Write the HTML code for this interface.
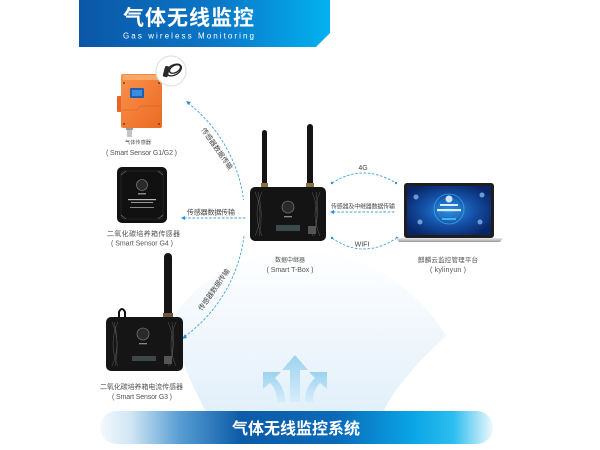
<!DOCTYPE html>
<html><head><meta charset="utf-8">
<style>
html,body{margin:0;padding:0;background:#fff;}
svg{display:block;}
text{font-family:"Liberation Sans","Noto Sans CJK SC",sans-serif;}
</style></head><body>
<svg width="600" height="450" viewBox="0 0 600 450" xmlns="http://www.w3.org/2000/svg">
<defs>
<linearGradient id="tb" x1="0" x2="1" y1="0" y2="0">
 <stop offset="0" stop-color="#0b56a6"/>
 <stop offset="0.55" stop-color="#0a78c8"/>
 <stop offset="1" stop-color="#03b1ef"/>
</linearGradient>
<linearGradient id="bb" x1="0" x2="1">
 <stop offset="0" stop-color="#f4f9fd"/>
 <stop offset="0.08" stop-color="#cfe5f4"/>
 <stop offset="0.2" stop-color="#5a9fd4"/>
 <stop offset="0.36" stop-color="#0c5ba8"/>
 <stop offset="0.6" stop-color="#0a6ab8"/>
 <stop offset="0.8" stop-color="#0aa6e6"/>
 <stop offset="0.9" stop-color="#2dbdf0"/>
 <stop offset="1" stop-color="#eef9fd"/>
</linearGradient>
<linearGradient id="glow" x1="0" y1="1" x2="0" y2="0">
 <stop offset="0" stop-color="#e2f0fa"/>
 <stop offset="0.55" stop-color="#f2f8fd"/>
 <stop offset="1" stop-color="#ffffff"/>
</linearGradient>
<linearGradient id="arw" x1="0" y1="0" x2="0" y2="1">
 <stop offset="0" stop-color="#9cd2f0"/>
 <stop offset="1" stop-color="#d6edf9"/>
</linearGradient>
<radialGradient id="scr" cx="0.5" cy="0.5" r="0.6">
 <stop offset="0" stop-color="#2f8fe2"/>
 <stop offset="0.5" stop-color="#1452a8"/>
 <stop offset="1" stop-color="#0a2466"/>
</radialGradient>
<linearGradient id="base" x1="0" y1="0" x2="0" y2="1">
 <stop offset="0" stop-color="#ececec"/>
 <stop offset="1" stop-color="#9a9a9a"/>
</linearGradient>
<linearGradient id="orange" x1="0" y1="0" x2="1" y2="1">
 <stop offset="0" stop-color="#f8924c"/>
 <stop offset="1" stop-color="#ec6a22"/>
</linearGradient>
</defs>

<!-- background glow -->
<path d="M206,412 C192,385 180,360 170,322 C200,272 255,250 300,250 C362,250 420,290 446,336 C420,360 396,385 383,412 Z" fill="url(#glow)"/>

<!-- top banner -->
<polygon points="79,0 330,0 330,33 316,47 79,47" fill="url(#tb)"/>
<text x="188.5" y="25" font-size="21" font-weight="bold" fill="#fff" text-anchor="middle" textLength="131" lengthAdjust="spacing">气体无线监控</text>
<text x="188.5" y="38.5" font-size="8" fill="#fff" text-anchor="middle" textLength="131" lengthAdjust="spacing">Gas wireless Monitoring</text>

<!-- bottom arrows glyph -->
<g fill="url(#arw)">
 <polygon points="295,355 308,370 300,370 300,402 290,402 290,370 282,370"/>
 <path d="M263,372 L281,372 L275,378 C282,385 285,392 285,402 L277,402 C277,393 275,388 270,383 L263,389 Z"/>
 <path d="M327,372 L309,372 L315,378 C308,385 305,392 305,402 L313,402 C313,393 315,388 320,383 L327,389 Z"/>
</g>

<!-- bottom banner -->
<rect x="100" y="411" width="393" height="33" rx="16.5" fill="url(#bb)"/>
<text x="296" y="434" font-size="16" font-weight="bold" fill="#fff" text-anchor="middle" textLength="128" lengthAdjust="spacing">气体无线监控系统</text>

<!-- dashed connectors -->
<g fill="none" stroke="#3ea3e2" stroke-width="0.9" stroke-dasharray="2.6,1.6">
 <path d="M188,103 A147,147 0 0 1 243.6,200"/>
 <path d="M244,236 A147,147 0 0 1 184,337"/>
 <line x1="184" y1="218" x2="246" y2="218"/>
 <path d="M332,183 Q363,163 396,183"/>
 <line x1="333" y1="212" x2="395" y2="212"/>
 <path d="M332,238 Q363,260 397,238"/>
</g>
<g fill="#2f8fd6">
 <polygon points="186,101 191,102 188,105"/>
 <polygon points="182,339 185,334 187,338"/>
 <polygon points="181,218 185,216 185,220"/>
 <circle cx="332" cy="183" r="1.2"/>
 <circle cx="396" cy="183" r="1.2"/>
 <polygon points="330,212 334,210 334,214"/>
 <circle cx="332" cy="238" r="1.2"/>
 <circle cx="397" cy="238" r="1.2"/>
</g>

<!-- connector labels -->
<g font-size="7" fill="#444">
 <text x="215" y="150" text-anchor="middle" transform="rotate(55 215 150)" textLength="49" lengthAdjust="spacing">传感器数据传输</text>
 <text x="216" y="291" text-anchor="middle" transform="rotate(-55 216 291)" textLength="49" lengthAdjust="spacing">传感器数据传输</text>
 <text x="211" y="214.5" text-anchor="middle" textLength="48" lengthAdjust="spacing">传感器数据传输</text>
 <text x="363" y="170" text-anchor="middle">4G</text>
 <text x="363" y="208.5" text-anchor="middle" font-size="6" textLength="64" lengthAdjust="spacing">传感器及中继器数据传输</text>
 <text x="362" y="246.5" text-anchor="middle">WIFI</text>
</g>

<!-- gas sensor -->
<g>
 <rect x="117" y="96" width="5" height="16" rx="1" fill="#e8661f"/>
 <rect x="121" y="74" width="41" height="54" rx="2" fill="url(#orange)"/>
 <rect x="123" y="75" width="37" height="5" fill="#f9a86a"/>
 <rect x="130" y="88" width="14" height="10" rx="1" fill="#1f5fb0"/>
 <rect x="132" y="90" width="10" height="6" fill="#3a8ee0"/>
 <path d="M122,110 L137,110 L141,106 L161,106" stroke="#d9581a" stroke-width="0.5" fill="none"/>
 <circle cx="124" cy="83" r="0.9" fill="#333"/><circle cx="159" cy="83" r="0.9" fill="#333"/>
 <circle cx="124" cy="124" r="0.9" fill="#333"/><circle cx="159" cy="124" r="0.9" fill="#333"/>
 <rect x="127" y="128" width="5" height="9" fill="#c5c5c5"/>
 <rect x="126" y="128" width="7" height="2" fill="#999"/>
</g>
<circle cx="171" cy="71" r="15" fill="#fff" stroke="#e2e2e2" stroke-width="1.2"/>
<g fill="none" stroke="#222" stroke-width="1.3">
 <ellipse cx="174" cy="70" rx="8" ry="5" transform="rotate(-30 174 70)"/>
 <ellipse cx="175" cy="69" rx="6" ry="3.5" transform="rotate(-30 175 69)"/>
</g>
<rect x="164" y="66" width="5" height="11" rx="1.5" fill="#2a2a2a" transform="rotate(15 166 71)"/>
<g fill="#555" text-anchor="middle">
 <text x="138" y="144" font-size="5.2">气体传感器</text>
 <text x="141.5" y="155" font-size="7" textLength="71" lengthAdjust="spacing">( Smart Sensor G1/G2 )</text>
</g>

<!-- G4 sensor -->
<g>
 <rect x="117" y="167" width="50" height="56" rx="5" fill="#111"/>
 <rect x="121" y="171" width="42" height="48" rx="3" fill="none" stroke="#333" stroke-width="0.6"/>
 <circle cx="142" cy="185" r="5.5" fill="#2a2a2a" stroke="#888" stroke-width="0.6"/>
 <rect x="138" y="193" width="8" height="1.5" fill="#888"/>
 <rect x="128" y="199" width="28" height="1.2" fill="#bbb"/>
 <rect x="131" y="202" width="22" height="1" fill="#999"/>
 <rect x="130" y="207" width="24" height="1" fill="#888"/>
 <path d="M121,175 L126,171 M163,175 L158,171 M121,215 L126,219 M163,215 L158,219" stroke="#777" stroke-width="0.6"/>
</g>
<g font-size="7" fill="#555" text-anchor="middle">
 <text x="143.5" y="236" textLength="73" lengthAdjust="spacing">二氧化碳培养箱传感器</text>
 <text x="142" y="245.5" textLength="62" lengthAdjust="spacing">( Smart Sensor G4 )</text>
</g>

<!-- G3 sensor -->
<g>
 <rect x="164" y="253" width="8" height="66" rx="4" fill="#141414"/>
 <rect x="163" y="313" width="10" height="5" fill="#6a5a3a"/>
 <path d="M119,318 L119,312 Q122,306 125,312 L125,318" fill="none" stroke="#111" stroke-width="2"/>
 <rect x="106" y="317" width="77" height="54" rx="5" fill="#151515"/>
 <g stroke="#5a5a5a" stroke-width="0.5" fill="none">
  <path d="M112,322 Q122,344 112,366 M118,322 Q108,344 118,366 M114,322 Q120,344 115,366"/>
  <path d="M168,322 Q178,344 168,366 M176,322 Q166,344 176,366 M172,322 Q176,344 170,366"/>
 </g>
 <circle cx="143" cy="334" r="6" fill="#2a2a2a" stroke="#888" stroke-width="0.6"/>
 <rect x="139" y="343" width="8" height="1.3" fill="#888"/>
 <rect x="132" y="356" width="24" height="5" fill="#3d4747"/>
 <rect x="164" y="356" width="8" height="8" fill="#555"/>
</g>
<g font-size="7" fill="#555" text-anchor="middle">
 <text x="141.5" y="389" textLength="83" lengthAdjust="spacing">二氧化碳培养箱电流传感器</text>
 <text x="142" y="399" textLength="60" lengthAdjust="spacing">( Smart Sensor G3 )</text>
</g>

<!-- T-Box -->
<g>
 <rect x="262" y="130" width="5" height="58" rx="2.5" fill="#141414"/>
 <rect x="307" y="124" width="6" height="64" rx="3" fill="#141414"/>
 <rect x="261" y="183" width="7" height="5" fill="#8a7040"/>
 <rect x="306" y="183" width="8" height="5" fill="#8a7040"/>
 <rect x="250" y="187" width="76" height="54" rx="5" fill="#141414"/>
 <g stroke="#5a5a5a" stroke-width="0.5" fill="none">
  <path d="M255,192 Q265,214 255,236 M262,192 Q252,214 262,236 M258,192 Q264,214 259,236"/>
  <path d="M312,192 Q322,214 312,236 M320,192 Q310,214 320,236 M316,192 Q320,214 314,236"/>
 </g>
 <circle cx="288" cy="207" r="6" fill="#2a2a2a" stroke="#888" stroke-width="0.6"/>
 <rect x="284" y="216" width="8" height="1.3" fill="#888"/>
 <rect x="276" y="225" width="24" height="6" fill="#3a4a4a"/>
 <rect x="308" y="226" width="8" height="8" fill="#555"/>
</g>
<g fill="#555" text-anchor="middle">
 <text x="290" y="262" font-size="6">数据中继器</text>
 <text x="290" y="272" font-size="7" textLength="47" lengthAdjust="spacing">( Smart T-Box )</text>
</g>

<!-- Laptop -->
<g>
 <rect x="404" y="183" width="90" height="55" rx="3" fill="#1e1e1e"/>
 <rect x="407" y="186" width="84" height="49" fill="url(#scr)"/>
 <circle cx="449" cy="209" r="15" fill="none" stroke="#3fb4f0" stroke-width="0.8" opacity="0.8"/>
 <circle cx="449" cy="209" r="11" fill="none" stroke="#2a8ad8" stroke-width="0.5"/>
 <circle cx="449" cy="199" r="3.5" fill="#cfe6fa"/>
 <rect x="440" y="204" width="18" height="2" fill="#dbeefc"/>
 <rect x="437" y="209" width="24" height="2.2" fill="#dbeefc"/>
 <rect x="442" y="218" width="14" height="2" fill="#3fb4f0"/>
 <circle cx="416" cy="197" r="2.5" fill="#7fb6e6" opacity="0.8"/>
 <circle cx="482" cy="195" r="2.5" fill="#7fb6e6" opacity="0.8"/>
 <circle cx="420" cy="222" r="2.5" fill="#7fb6e6" opacity="0.8"/>
 <circle cx="480" cy="222" r="2.5" fill="#7fb6e6" opacity="0.8"/>
 <path d="M396,238 L503,238 L500,242 L399,242 Z" fill="url(#base)"/>
</g>
<g fill="#555" text-anchor="middle">
 <text x="448" y="262" font-size="6.5" textLength="60" lengthAdjust="spacing">麒麟云监控管理平台</text>
 <text x="448" y="272" font-size="7" textLength="36" lengthAdjust="spacing">( kylinyun )</text>
</g>
</svg>
</body></html>
